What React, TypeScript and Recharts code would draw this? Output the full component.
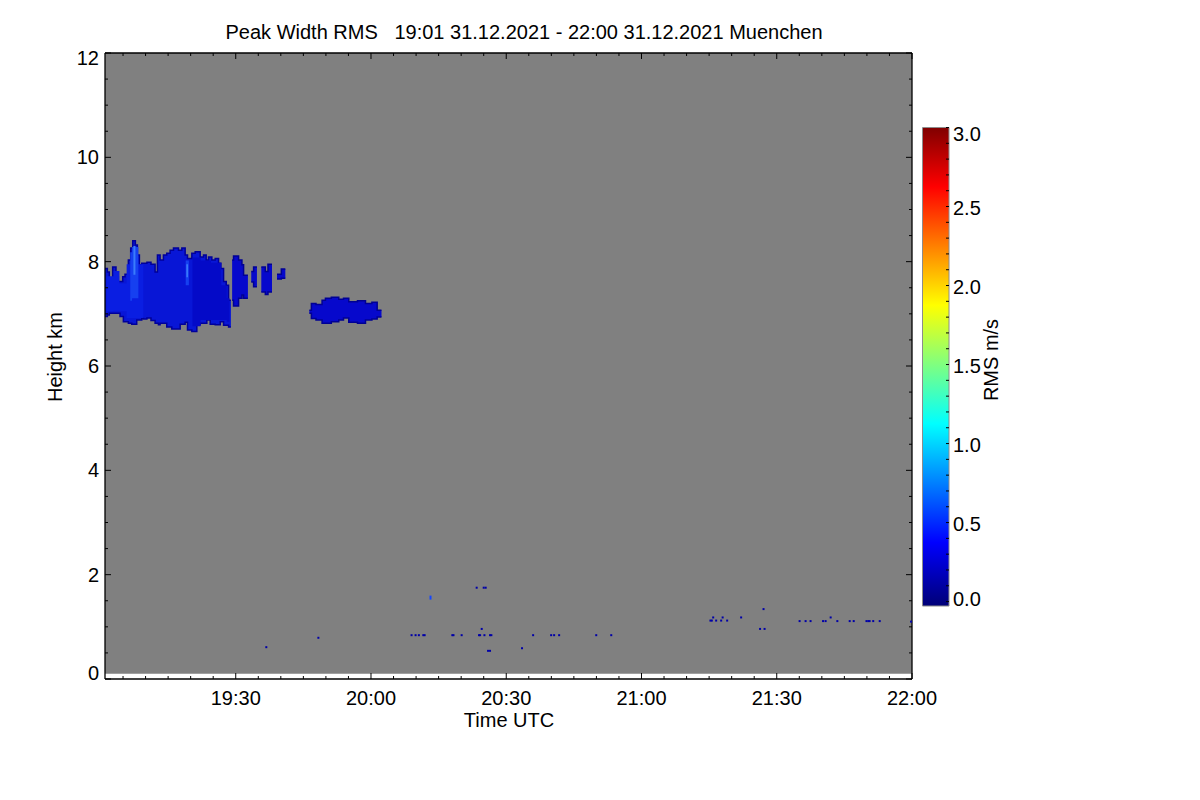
import React from 'react';
import { ComposedChart, Area, Scatter, XAxis, YAxis, ReferenceArea } from 'recharts';

const FONT = '"Liberation Sans", Arial, Helvetica, sans-serif';
const W = 1200;
const H = 800;

// ---- ticks (time in minutes after 19:00 UTC) ----
const timeTicks = [5, 10, 15, 20, 25, 30, 35, 40, 45, 50, 55, 60, 65, 70, 75, 80, 85, 90, 95, 100, 105, 110, 115, 120, 125, 130, 135, 140, 145, 150, 155, 160, 165, 170, 175, 180];
const timeLabels: Record<number, string> = { 30: '19:30', 60: '20:00', 90: '20:30', 120: '21:00', 150: '21:30', 180: '22:00' };
const heightTicks = [0, 0.5, 1, 1.5, 2, 2.5, 3, 3.5, 4, 4.5, 5, 5.5, 6, 6.5, 7, 7.5, 8, 8.5, 9, 9.5, 10, 10.5, 11, 11.5, 12];
const heightLabels = [0, 2, 4, 6, 8, 10, 12];
const rmsTicks = [0, 0.1, 0.2, 0.3, 0.4, 0.5, 0.6, 0.7, 0.8, 0.9, 1, 1.1, 1.2, 1.3, 1.4, 1.5, 1.6, 1.7, 1.8, 1.9, 2, 2.1, 2.2, 2.3, 2.4, 2.5, 2.6, 2.7, 2.8, 2.9, 3];
const rmsLabels = [0, 0.5, 1, 1.5, 2, 2.5, 3];

// ---- data: [minute, bottom km, top km] ----
type Pt = [number, number, number];

const plotBackground: Pt[] = [
  [1, 0.1, 12],
  [180, 0.1, 12],
];

const mainCloud: Pt[] = [
  [1.0, 6.95, 7.87], [1.52, 6.98, 7.8], [1.96, 7.01, 7.62], [2.7, 7.01, 7.9], [3.44, 7.01, 7.71],
  [3.96, 7.01, 7.62], [4.33, 6.95, 7.62], [4.93, 6.95, 7.71], [5.07, 6.85, 7.71], [5.44, 6.85, 7.76],
  [6.18, 6.82, 8.03], [6.7, 6.82, 8.26], [6.93, 6.8, 8.26], [7.15, 6.8, 8.4], [7.74, 6.8, 8.32],
  [8.04, 6.88, 8.32], [8.18, 6.88, 8.13], [8.63, 6.88, 7.94], [9.15, 6.91, 7.97], [9.52, 6.9, 7.97],
  [10.3, 6.92, 7.99], [11.2, 6.87, 7.95], [12.11, 6.82, 7.8], [12.63, 6.82, 8.13], [12.85, 6.79, 8.13],
  [13.22, 6.82, 8.03], [13.96, 6.82, 8.13], [14.7, 6.75, 8.16], [15.44, 6.75, 8.22], [15.81, 6.71, 8.22],
  [16.19, 6.71, 8.26], [17.3, 6.71, 8.22], [17.67, 6.8, 8.22], [18.04, 6.8, 8.26], [18.78, 6.84, 8.13],
  [19.3, 6.69, 8.06], [20.26, 6.66, 8.16], [21.0, 6.66, 8.19], [21.37, 6.79, 8.19], [22.11, 6.82, 8.09],
  [22.85, 6.82, 8.13], [23.44, 6.82, 8.03], [23.59, 6.88, 8.03], [23.96, 6.88, 8.09], [24.33, 6.8, 8.09],
  [24.7, 6.8, 8.03], [25.44, 6.79, 8.06], [26.19, 6.79, 7.97], [26.56, 6.85, 7.97], [26.7, 6.85, 7.87],
  [27.3, 6.78, 7.62], [27.89, 6.78, 7.55], [28.41, 6.75, 7.26], [28.93, 6.75, 7.26],
];

const fragmentA: Pt[] = [
  [29.2, 7.26, 8.03], [29.51, 7.15, 8.11], [30.63, 7.3, 8.03], [31.37, 7.36, 7.94], [31.74, 7.3, 7.74], [32.7, 7.3, 7.74],
];
const fragmentB: Pt[] = [
  [33.44, 7.61, 7.81], [33.96, 7.52, 7.9], [34.7, 7.52, 7.9],
];
const fragmentC: Pt[] = [
  [35.67, 7.42, 7.9], [36.56, 7.37, 7.81], [37.15, 7.42, 7.95], [38.04, 7.42, 7.95],
];
const fragmentD: Pt[] = [
  [39.15, 7.67, 7.76], [40.11, 7.68, 7.86], [41.0, 7.68, 7.86],
];
const secondCloud: Pt[] = [
  [46.33, 7.01, 7.07], [46.78, 6.91, 7.2], [47.8, 6.88, 7.18], [49.15, 6.82, 7.26], [49.89, 6.82, 7.3],
  [51.2, 6.85, 7.32], [52.85, 6.88, 7.28], [53.9, 6.92, 7.3], [55.07, 6.84, 7.23], [57.0, 6.82, 7.25],
  [58.78, 6.88, 7.2], [60.2, 6.9, 7.22], [61.37, 6.94, 7.07], [62.33, 6.94, 7.07],
];

// texture inside the main cloud
const darkerZone: Pt[] = [
  [20.4, 6.76, 8.08], [22.2, 6.88, 8.02], [24.5, 6.88, 7.98], [26.8, 6.88, 7.55], [28.0, 6.85, 7.3], [28.6, 6.85, 7.3],
];
const lighterZone: Pt[] = [
  [1.3, 7.05, 7.72], [2.9, 7.06, 7.82], [4.2, 7.05, 7.58], [5.8, 6.92, 7.95], [9.5, 6.92, 7.95],
];
const streaks: Pt[][] = [
  [[6.6, 7.25, 8.18], [7.0, 7.3, 8.28], [8.4, 7.3, 8.28]],
  [[18.9, 7.55, 8.02], [19.6, 7.55, 8.02]],
];
const brightCores: Pt[][] = [
  [[7.3, 7.75, 8.3], [7.75, 7.75, 8.3]],
  [[19.05, 7.7, 7.95], [19.4, 7.7, 7.95]],
];

// isolated low echoes [minute, km]
const lowEchoes: [number, number][] = [
  [36.78, 0.61], [48.33, 0.79], [69.0, 0.84], [69.89, 0.84], [70.62, 0.84], [71.6, 0.84], [71.9, 0.84],
  [78.04, 0.84], [78.3, 0.84], [80.11, 0.84], [83.44, 1.75], [85.0, 1.75], [85.44, 1.75], [84.56, 0.96],
  [83.96, 0.84], [84.2, 0.84], [85.16, 0.84], [86.4, 0.84], [86.7, 0.84], [85.96, 0.54], [86.4, 0.54],
  [93.5, 0.59], [95.96, 0.84], [99.96, 0.84], [100.62, 0.84], [101.73, 0.84], [109.96, 0.84], [113.29, 0.84],
  [135.29, 1.12], [135.6, 1.12], [135.9, 1.18], [136.56, 1.12], [137.67, 1.12], [138.0, 1.18], [139.0, 1.12],
  [142.1, 1.18], [147.07, 1.34], [146.3, 0.96], [147.3, 0.96], [155.07, 1.11], [156.4, 1.11], [157.5, 1.11],
  [160.27, 1.11], [160.84, 1.11], [161.96, 1.18], [163.44, 1.11], [166.18, 1.11], [167.07, 1.11],
  [169.9, 1.11], [170.3, 1.11], [170.6, 1.11], [171.4, 1.11], [172.84, 1.11], [179.8, 1.1],
];
const brightEchoes: [number, number][] = [[73.2, 1.56]];

// colour bar range [x, bottom, top]
const colorbarRange: Pt[] = [
  [0, -0.028, 3],
  [1, -0.028, 3],
];
const jetStops: [number, string][] = [
  [-0.028, '#000078'], [0, '#000080'], [0.375, '#0000ff'], [1.125, '#00ffff'],
  [1.875, '#ffff00'], [2.625, '#ff0000'], [3, '#800000'],
];

// ---- helpers that build the tables the library needs ----
const toRows = (segments: Pt[][]) => {
  const rows: any[] = [];
  segments.forEach((seg) => {
    seg.forEach(([m, lo, hi]) => rows.push({ m, r: [lo, hi] }));
    rows.push({ m: seg[seg.length - 1][0] + 0.01, r: null });
  });
  return rows;
};
const bgRows = toRows([plotBackground]);
const mainRows = toRows([mainCloud]);
const otherRows = toRows([fragmentA, fragmentB, fragmentC, fragmentD, secondCloud]);
const darkRows = toRows([darkerZone]);
const lightRows = toRows([lighterZone]);
const streakRows = toRows(streaks);
const coreRows = toRows(brightCores);
const echoRows = lowEchoes.map(([m, h]) => ({ m, h }));
const brightRows = brightEchoes.map(([m, h]) => ({ m, h }));
const cbRows = colorbarRange.map(([x, lo, hi]) => ({ x, v: [lo, hi] }));

const textStyle = { fontFamily: FONT, fontSize: 20, fill: '#000' } as const;

// ---- tick renderers (inward ticks like the original) ----
const BottomTick = (props: any) => {
  const { x, y, payload } = props;
  const v = payload.value;
  const major = timeLabels[v] !== undefined;
  return (
    <g>
      <line x1={x} x2={x} y1={y} y2={y - (major ? 6 : 3)} stroke="#000" strokeWidth={1} />
      {major && (
        <text x={x} y={y + 26} textAnchor="middle" {...textStyle}>
          {timeLabels[v]}
        </text>
      )}
    </g>
  );
};
const TopTick = (props: any) => {
  const { x, y, payload } = props;
  const major = timeLabels[payload.value] !== undefined;
  return <line x1={x} x2={x} y1={y} y2={y + (major ? 6 : 3)} stroke="#000" strokeWidth={1} />;
};
const LeftTick = (props: any) => {
  const { x, y, payload } = props;
  const v = payload.value;
  const major = heightLabels.includes(v);
  const shift = v === 12 ? 5 : v === 0 ? -6 : 0;
  return (
    <g>
      <line x1={x} x2={x + (major ? 6 : 3)} y1={y} y2={y} stroke="#000" strokeWidth={1} />
      {major && (
        <text x={x - 6} y={y + 7 + shift} textAnchor="end" {...textStyle}>
          {String(v)}
        </text>
      )}
    </g>
  );
};
const RightTick = (props: any) => {
  const { x, y, payload } = props;
  const major = heightLabels.includes(payload.value);
  return <line x1={x} x2={x - (major ? 6 : 3)} y1={y} y2={y} stroke="#000" strokeWidth={1} />;
};
const ColorbarTick = (props: any) => {
  const { x, y, payload } = props;
  const v = payload.value;
  const major = rmsLabels.some((l) => Math.abs(l - v) < 1e-6);
  const shift = Math.abs(v - 3) < 1e-6 ? 6 : Math.abs(v) < 1e-6 ? -3 : 1;
  return (
    <g>
      <line x1={x} x2={x - 3} y1={y} y2={y} stroke="#000" strokeWidth={1} />
      {major && (
        <text x={x + 4} y={y + 7 + shift} textAnchor="start" {...textStyle}>
          {v.toFixed(1)}
        </text>
      )}
    </g>
  );
};

const EchoShape = (props: any) => {
  const { cx, cy } = props;
  if (cx == null || cy == null) return null;
  return <rect x={cx - 1} y={cy - 1} width={2} height={2} fill="#0000a8" />;
};
const BrightEchoShape = (props: any) => {
  const { cx, cy } = props;
  if (cx == null || cy == null) return null;
  return <rect x={cx - 1} y={cy - 2} width={2} height={4} fill="#1446ff" />;
};

const areaCommon = {
  xAxisId: 'b',
  yAxisId: 'l',
  dataKey: 'r',
  isAnimationActive: false,
  dot: false,
  activeDot: false,
  connectNulls: false,
  fillOpacity: 1,
} as const;

const axisLine = { stroke: '#000', strokeWidth: 1.3 };

export default function App() {
  return (
    <div style={{ position: 'absolute', left: 0, top: 0, width: W, height: H, background: '#fff', overflow: 'hidden' }}>
      <div style={{ position: 'absolute', left: 0, top: 0 }}>
        <ComposedChart width={W} height={H} margin={{ top: 0, right: 0, bottom: 0, left: 0 }}>
          <XAxis
            xAxisId="b"
            dataKey="m"
            type="number"
            orientation="bottom"
            domain={[1, 180]}
            allowDataOverflow
            ticks={timeTicks}
            interval={0}
            height={121}
            tickSize={0}
            tickMargin={0}
            tickLine={false}
            axisLine={axisLine}
            tick={<BottomTick />}
            label={{
              content: () => (
                <text x={509} y={727} textAnchor="middle" {...textStyle}>
                  Time UTC
                </text>
              ),
            }}
          />
          <XAxis
            xAxisId="t"
            dataKey="m"
            type="number"
            orientation="top"
            domain={[1, 180]}
            allowDataOverflow
            ticks={timeTicks}
            interval={0}
            height={53}
            tickSize={0}
            tickMargin={0}
            tickLine={false}
            axisLine={axisLine}
            tick={<TopTick />}
            label={{
              content: () => (
                <text x={225.5} y={39} textAnchor="start" style={{ whiteSpace: 'pre' }} xmlSpace="preserve" {...textStyle}>
                  {'Peak Width RMS   19:01 31.12.2021 - 22:00 31.12.2021 Muenchen'}
                </text>
              ),
            }}
          />
          <YAxis
            yAxisId="l"
            type="number"
            orientation="left"
            domain={[0, 12]}
            allowDataOverflow
            ticks={heightTicks}
            interval={0}
            width={105}
            tickSize={0}
            tickMargin={0}
            tickLine={false}
            axisLine={axisLine}
            tick={<LeftTick />}
            label={{
              content: () => (
                <text x={62} y={357} textAnchor="middle" transform="rotate(-90 62 357)" {...textStyle}>
                  Height km
                </text>
              ),
            }}
          />
          <YAxis
            yAxisId="r"
            type="number"
            orientation="right"
            domain={[0, 12]}
            allowDataOverflow
            ticks={heightTicks}
            interval={0}
            width={288}
            tickSize={0}
            tickMargin={0}
            tickLine={false}
            axisLine={axisLine}
            tick={<RightTick />}
          />

          <Area {...areaCommon} data={bgRows} type="linear" fill="#808080" stroke="none" />
          <Area {...areaCommon} data={mainRows} type="stepAfter" fill="#0816d6" stroke="#00009a" strokeWidth={1.5} />
          <Area {...areaCommon} data={otherRows} type="stepAfter" fill="#0608cc" stroke="#000094" strokeWidth={1.5} />
          <Area {...areaCommon} data={darkRows} type="stepAfter" fill="#040ac8" stroke="none" />
          <Area {...areaCommon} data={lightRows} type="stepAfter" fill="#0a1ee2" stroke="none" />
          <Area {...areaCommon} data={streakRows} type="stepAfter" fill="#1640f0" stroke="none" />
          <Area {...areaCommon} data={coreRows} type="stepAfter" fill="#3a7cfc" stroke="none" />

          <Scatter xAxisId="b" yAxisId="l" data={echoRows} dataKey="h" isAnimationActive={false} shape={<EchoShape />} />
          <Scatter xAxisId="b" yAxisId="l" data={brightRows} dataKey="h" isAnimationActive={false} shape={<BrightEchoShape />} />
        </ComposedChart>
      </div>

      <div style={{ position: 'absolute', left: 0, top: 0 }}>
        <ComposedChart width={W} height={H} margin={{ top: 127.5, right: 0, bottom: 194, left: 922.5 }}>
          <defs>
            <linearGradient id="jetGrad" x1="0" y1="1" x2="0" y2="0">
              {jetStops.map(([v, c]) => (
                <stop key={v} offset={(v + 0.028) / 3.028} stopColor={c} />
              ))}
            </linearGradient>
          </defs>
          <XAxis xAxisId="c" dataKey="x" type="number" domain={[0, 1]} allowDataOverflow hide />
          <YAxis
            yAxisId="c"
            type="number"
            orientation="right"
            domain={[-0.028, 3]}
            allowDataOverflow
            ticks={rmsTicks}
            interval={0}
            width={251}
            tickSize={0}
            tickMargin={0}
            tickLine={false}
            axisLine={false}
            tick={<ColorbarTick />}
            label={{
              content: () => (
                <text x={998} y={360} textAnchor="middle" transform="rotate(-90 998 360)" {...textStyle}>
                  RMS m/s
                </text>
              ),
            }}
          />
          <Area
            xAxisId="c"
            yAxisId="c"
            data={cbRows}
            dataKey="v"
            type="linear"
            fill="url(#jetGrad)"
            fillOpacity={1}
            stroke="none"
            isAnimationActive={false}
            dot={false}
            activeDot={false}
          />
          <ReferenceArea xAxisId="c" yAxisId="c" x1={0} x2={1} y1={-0.028} y2={3} fill="none" stroke="#8c8c8c" strokeWidth={1} ifOverflow="visible" />
        </ComposedChart>
      </div>
    </div>
  );
}
